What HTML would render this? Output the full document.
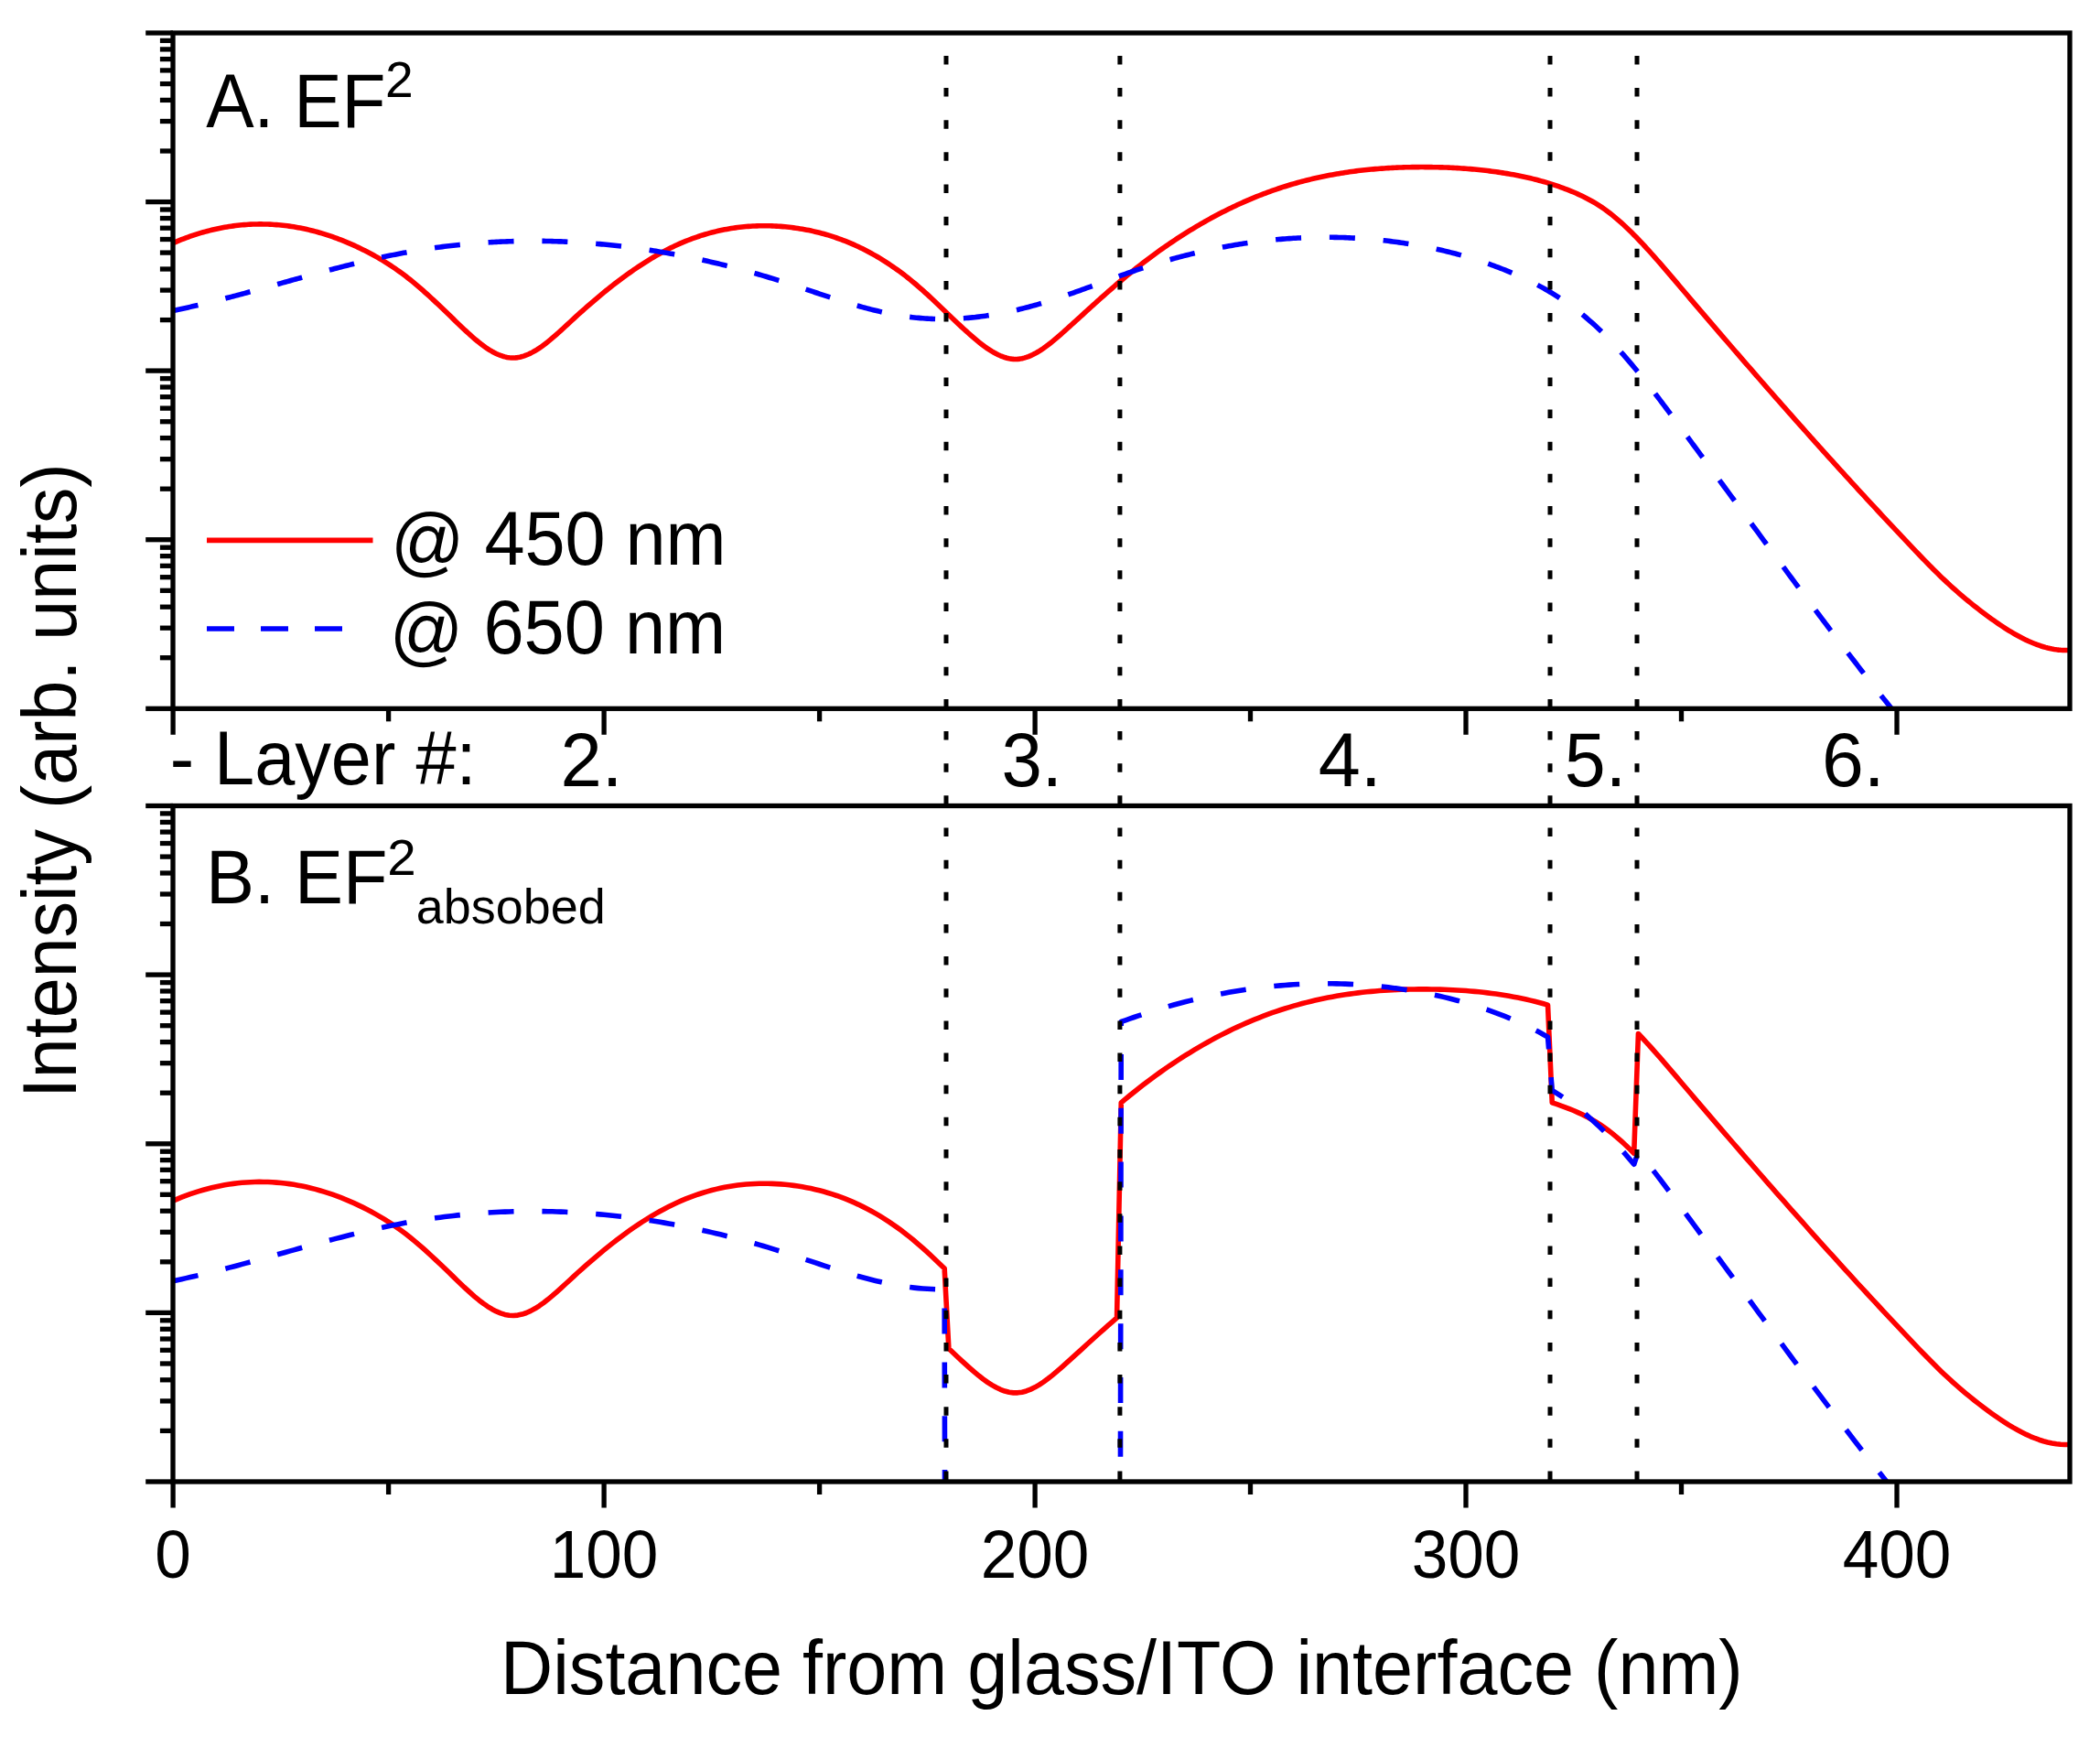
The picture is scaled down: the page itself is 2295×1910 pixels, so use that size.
<!DOCTYPE html>
<html><head><meta charset="utf-8"><style>html,body{margin:0;padding:0;background:#fff;overflow:hidden}svg{display:block}</style></head>
<body><svg width="2295" height="1910" viewBox="0 0 2295 1910">
<rect width="100%" height="100%" fill="#fff"/>
<clipPath id="cA"><rect x="189" y="36.0" width="2073" height="738.3"/></clipPath>
<clipPath id="cB"><rect x="189" y="880.5" width="2073" height="738.5"/></clipPath>
<g clip-path="url(#cA)">
<path d="M189.10,265.57 L191.45,264.56 L193.81,263.58 L196.16,262.62 L198.52,261.69 L200.87,260.78 L203.23,259.90 L205.58,259.04 L207.94,258.21 L210.29,257.40 L212.65,256.62 L215.00,255.87 L217.36,255.14 L219.71,254.43 L222.07,253.75 L224.42,253.10 L226.78,252.47 L229.13,251.87 L231.49,251.29 L233.84,250.74 L236.20,250.21 L238.55,249.70 L240.91,249.23 L243.26,248.77 L245.62,248.35 L247.97,247.94 L250.33,247.57 L252.68,247.21 L255.04,246.89 L257.39,246.58 L259.75,246.31 L262.10,246.06 L264.46,245.83 L266.81,245.63 L269.17,245.45 L271.52,245.30 L273.88,245.17 L276.23,245.07 L278.59,244.99 L280.94,244.94 L283.30,244.91 L285.65,244.91 L288.01,244.93 L290.36,244.98 L292.72,245.05 L295.07,245.15 L297.43,245.27 L299.78,245.42 L302.14,245.59 L304.49,245.78 L306.85,246.00 L309.20,246.25 L311.55,246.52 L313.91,246.82 L316.26,247.14 L318.62,247.48 L320.97,247.85 L323.33,248.24 L325.68,248.66 L328.04,249.11 L330.39,249.57 L332.75,250.07 L335.10,250.58 L337.46,251.13 L339.81,251.69 L342.17,252.28 L344.52,252.90 L346.88,253.54 L349.23,254.21 L351.59,254.89 L353.94,255.61 L356.30,256.35 L358.65,257.11 L361.01,257.90 L363.36,258.71 L365.72,259.55 L368.07,260.41 L370.43,261.29 L372.78,262.20 L375.14,263.13 L377.49,264.09 L379.85,265.08 L382.20,266.08 L384.56,267.11 L386.91,268.17 L389.27,269.25 L391.62,270.35 L393.98,271.48 L396.33,272.64 L398.69,273.81 L401.04,275.02 L403.40,276.25 L405.75,277.50 L408.11,278.79 L410.46,280.10 L412.82,281.44 L415.17,282.81 L417.53,284.22 L419.88,285.65 L422.24,287.11 L424.59,288.61 L426.94,290.14 L429.30,291.71 L431.65,293.31 L434.01,294.94 L436.36,296.61 L438.72,298.32 L441.07,300.06 L443.43,301.85 L445.78,303.67 L448.14,305.53 L450.49,307.43 L452.85,309.36 L455.20,311.34 L457.56,313.34 L459.91,315.38 L462.27,317.45 L464.62,319.54 L466.98,321.66 L469.33,323.80 L471.69,325.97 L474.04,328.15 L476.40,330.35 L478.75,332.57 L481.11,334.80 L483.46,337.05 L485.82,339.30 L488.17,341.57 L490.53,343.83 L492.88,346.11 L495.24,348.38 L497.59,350.66 L499.95,352.93 L502.30,355.20 L504.66,357.45 L507.01,359.68 L509.37,361.88 L511.72,364.05 L514.08,366.18 L516.43,368.26 L518.79,370.30 L521.14,372.27 L523.50,374.18 L525.85,376.03 L528.21,377.79 L530.56,379.47 L532.92,381.07 L535.27,382.57 L537.63,383.96 L539.98,385.25 L542.34,386.43 L544.69,387.49 L547.04,388.42 L549.40,389.22 L551.75,389.88 L554.11,390.40 L556.46,390.76 L558.82,390.97 L561.17,391.02 L563.53,390.90 L565.88,390.61 L568.24,390.18 L570.59,389.59 L572.95,388.86 L575.30,387.99 L577.66,387.00 L580.01,385.88 L582.37,384.64 L584.72,383.30 L587.08,381.86 L589.43,380.31 L591.79,378.68 L594.14,376.97 L596.50,375.18 L598.85,373.33 L601.21,371.41 L603.56,369.43 L605.92,367.41 L608.27,365.34 L610.63,363.24 L612.98,361.11 L615.34,358.95 L617.69,356.79 L620.05,354.61 L622.40,352.43 L624.76,350.25 L627.11,348.09 L629.47,345.94 L631.82,343.80 L634.18,341.68 L636.53,339.57 L638.89,337.48 L641.24,335.41 L643.60,333.35 L645.95,331.31 L648.31,329.29 L650.66,327.28 L653.02,325.29 L655.37,323.32 L657.73,321.37 L660.08,319.44 L662.43,317.52 L664.79,315.63 L667.14,313.76 L669.50,311.90 L671.85,310.07 L674.21,308.26 L676.56,306.47 L678.92,304.70 L681.27,302.95 L683.63,301.23 L685.98,299.52 L688.34,297.85 L690.69,296.19 L693.05,294.56 L695.40,292.95 L697.76,291.37 L700.11,289.81 L702.47,288.28 L704.82,286.77 L707.18,285.29 L709.53,283.83 L711.89,282.41 L714.24,281.01 L716.60,279.63 L718.95,278.29 L721.31,276.97 L723.66,275.68 L726.02,274.42 L728.37,273.19 L730.73,271.98 L733.08,270.81 L735.44,269.67 L737.79,268.56 L740.15,267.47 L742.50,266.42 L744.86,265.39 L747.21,264.40 L749.57,263.43 L751.92,262.49 L754.28,261.58 L756.63,260.70 L758.99,259.85 L761.34,259.03 L763.70,258.23 L766.05,257.46 L768.41,256.72 L770.76,256.01 L773.12,255.33 L775.47,254.67 L777.83,254.04 L780.18,253.44 L782.53,252.86 L784.89,252.31 L787.24,251.79 L789.60,251.29 L791.95,250.82 L794.31,250.38 L796.66,249.96 L799.02,249.57 L801.37,249.20 L803.73,248.86 L806.08,248.55 L808.44,248.26 L810.79,248.00 L813.15,247.76 L815.50,247.54 L817.86,247.35 L820.21,247.19 L822.57,247.05 L824.92,246.93 L827.28,246.84 L829.63,246.78 L831.99,246.73 L834.34,246.71 L836.70,246.72 L839.05,246.75 L841.41,246.80 L843.76,246.87 L846.12,246.97 L848.47,247.09 L850.83,247.23 L853.18,247.40 L855.54,247.59 L857.89,247.80 L860.25,248.03 L862.60,248.28 L864.96,248.56 L867.31,248.86 L869.67,249.18 L872.02,249.53 L874.38,249.90 L876.73,250.29 L879.09,250.71 L881.44,251.15 L883.80,251.62 L886.15,252.11 L888.51,252.62 L890.86,253.16 L893.22,253.72 L895.57,254.31 L897.92,254.93 L900.28,255.57 L902.63,256.24 L904.99,256.94 L907.34,257.66 L909.70,258.41 L912.05,259.18 L914.41,259.98 L916.76,260.82 L919.12,261.67 L921.47,262.56 L923.83,263.48 L926.18,264.42 L928.54,265.39 L930.89,266.40 L933.25,267.43 L935.60,268.49 L937.96,269.58 L940.31,270.70 L942.67,271.86 L945.02,273.04 L947.38,274.25 L949.73,275.50 L952.09,276.77 L954.44,278.08 L956.80,279.42 L959.15,280.79 L961.51,282.19 L963.86,283.63 L966.22,285.10 L968.57,286.60 L970.93,288.14 L973.28,289.71 L975.64,291.31 L977.99,292.95 L980.35,294.62 L982.70,296.32 L985.06,298.06 L987.41,299.84 L989.77,301.65 L992.12,303.50 L994.48,305.38 L996.83,307.30 L999.19,309.25 L1001.54,311.24 L1003.90,313.27 L1006.25,315.33 L1008.61,317.43 L1010.96,319.55 L1013.32,321.69 L1015.67,323.87 L1018.02,326.06 L1020.38,328.27 L1022.73,330.49 L1025.09,332.73 L1027.44,334.97 L1029.80,337.23 L1032.15,339.48 L1034.51,341.74 L1036.86,344.00 L1039.22,346.25 L1041.57,348.49 L1043.93,350.73 L1046.28,352.95 L1048.64,355.16 L1050.99,357.34 L1053.35,359.51 L1055.70,361.65 L1058.06,363.77 L1060.41,365.86 L1062.77,367.91 L1065.12,369.93 L1067.48,371.90 L1069.83,373.82 L1072.19,375.68 L1074.54,377.48 L1076.90,379.21 L1079.25,380.86 L1081.61,382.42 L1083.96,383.90 L1086.32,385.28 L1088.67,386.56 L1091.03,387.73 L1093.38,388.79 L1095.74,389.72 L1098.09,390.53 L1100.45,391.21 L1102.80,391.74 L1105.16,392.13 L1107.51,392.36 L1109.87,392.44 L1112.22,392.35 L1114.58,392.10 L1116.93,391.69 L1119.29,391.13 L1121.64,390.43 L1124.00,389.59 L1126.35,388.62 L1128.71,387.53 L1131.06,386.33 L1133.41,385.01 L1135.77,383.60 L1138.12,382.08 L1140.48,380.48 L1142.83,378.80 L1145.19,377.05 L1147.54,375.22 L1149.90,373.34 L1152.25,371.40 L1154.61,369.41 L1156.96,367.39 L1159.32,365.33 L1161.67,363.24 L1164.03,361.14 L1166.38,359.02 L1168.74,356.89 L1171.09,354.76 L1173.45,352.62 L1175.80,350.48 L1178.16,348.34 L1180.51,346.20 L1182.87,344.06 L1185.22,341.92 L1187.58,339.78 L1189.93,337.64 L1192.29,335.50 L1194.64,333.37 L1197.00,331.25 L1199.35,329.13 L1201.71,327.02 L1204.06,324.91 L1206.42,322.82 L1208.77,320.73 L1211.13,318.66 L1213.48,316.60 L1215.84,314.55 L1218.19,312.51 L1220.55,310.49 L1222.90,308.48 L1225.26,306.49 L1227.61,304.52 L1229.97,302.57 L1232.32,300.63 L1234.68,298.71 L1237.03,296.80 L1239.39,294.91 L1241.74,293.04 L1244.10,291.19 L1246.45,289.35 L1248.81,287.53 L1251.16,285.73 L1253.51,283.94 L1255.87,282.17 L1258.22,280.42 L1260.58,278.68 L1262.93,276.96 L1265.29,275.26 L1267.64,273.57 L1270.00,271.91 L1272.35,270.25 L1274.71,268.62 L1277.06,267.00 L1279.42,265.39 L1281.77,263.81 L1284.13,262.24 L1286.48,260.68 L1288.84,259.15 L1291.19,257.63 L1293.55,256.12 L1295.90,254.64 L1298.26,253.16 L1300.61,251.71 L1302.97,250.27 L1305.32,248.85 L1307.68,247.44 L1310.03,246.06 L1312.39,244.68 L1314.74,243.33 L1317.10,241.99 L1319.45,240.66 L1321.81,239.36 L1324.16,238.06 L1326.52,236.79 L1328.87,235.53 L1331.23,234.29 L1333.58,233.06 L1335.94,231.85 L1338.29,230.66 L1340.65,229.48 L1343.00,228.32 L1345.36,227.17 L1347.71,226.04 L1350.07,224.93 L1352.42,223.83 L1354.78,222.75 L1357.13,221.69 L1359.49,220.64 L1361.84,219.60 L1364.20,218.59 L1366.55,217.58 L1368.90,216.60 L1371.26,215.63 L1373.61,214.67 L1375.97,213.74 L1378.32,212.81 L1380.68,211.91 L1383.03,211.02 L1385.39,210.14 L1387.74,209.28 L1390.10,208.44 L1392.45,207.61 L1394.81,206.80 L1397.16,206.01 L1399.52,205.22 L1401.87,204.46 L1404.23,203.71 L1406.58,202.98 L1408.94,202.26 L1411.29,201.55 L1413.65,200.86 L1416.00,200.19 L1418.36,199.53 L1420.71,198.89 L1423.07,198.26 L1425.42,197.64 L1427.78,197.04 L1430.13,196.45 L1432.49,195.88 L1434.84,195.32 L1437.20,194.78 L1439.55,194.24 L1441.91,193.73 L1444.26,193.22 L1446.62,192.73 L1448.97,192.25 L1451.33,191.79 L1453.68,191.34 L1456.04,190.90 L1458.39,190.47 L1460.75,190.06 L1463.10,189.66 L1465.46,189.27 L1467.81,188.89 L1470.17,188.53 L1472.52,188.18 L1474.88,187.84 L1477.23,187.51 L1479.59,187.19 L1481.94,186.89 L1484.30,186.59 L1486.65,186.31 L1489.00,186.04 L1491.36,185.78 L1493.71,185.53 L1496.07,185.30 L1498.42,185.07 L1500.78,184.85 L1503.13,184.65 L1505.49,184.45 L1507.84,184.27 L1510.20,184.10 L1512.55,183.93 L1514.91,183.78 L1517.26,183.63 L1519.62,183.50 L1521.97,183.37 L1524.33,183.26 L1526.68,183.15 L1529.04,183.06 L1531.39,182.97 L1533.75,182.89 L1536.10,182.82 L1538.46,182.76 L1540.81,182.71 L1543.17,182.66 L1545.52,182.63 L1547.88,182.60 L1550.23,182.59 L1552.59,182.57 L1554.94,182.57 L1557.30,182.58 L1559.65,182.59 L1562.01,182.61 L1564.36,182.64 L1566.72,182.68 L1569.07,182.72 L1571.43,182.78 L1573.78,182.84 L1576.14,182.91 L1578.49,182.99 L1580.85,183.07 L1583.20,183.17 L1585.56,183.27 L1587.91,183.38 L1590.27,183.51 L1592.62,183.64 L1594.98,183.78 L1597.33,183.93 L1599.69,184.09 L1602.04,184.27 L1604.39,184.45 L1606.75,184.64 L1609.10,184.84 L1611.46,185.05 L1613.81,185.28 L1616.17,185.51 L1618.52,185.76 L1620.88,186.02 L1623.23,186.28 L1625.59,186.56 L1627.94,186.85 L1630.30,187.16 L1632.65,187.47 L1635.01,187.80 L1637.36,188.14 L1639.72,188.49 L1642.07,188.86 L1644.43,189.23 L1646.78,189.62 L1649.14,190.03 L1651.49,190.44 L1653.85,190.87 L1656.20,191.32 L1658.56,191.77 L1660.91,192.24 L1663.27,192.73 L1665.62,193.23 L1667.98,193.75 L1670.33,194.28 L1672.69,194.83 L1675.04,195.40 L1677.40,195.98 L1679.75,196.58 L1682.11,197.20 L1684.46,197.84 L1686.82,198.50 L1689.17,199.18 L1691.53,199.88 L1693.88,200.60 L1696.24,201.34 L1698.59,202.10 L1700.95,202.88 L1703.30,203.69 L1705.66,204.52 L1708.01,205.38 L1710.37,206.26 L1712.72,207.16 L1715.08,208.09 L1717.43,209.05 L1719.79,210.03 L1722.14,211.05 L1724.49,212.10 L1726.85,213.18 L1729.20,214.30 L1731.56,215.46 L1733.91,216.66 L1736.27,217.91 L1738.62,219.20 L1740.98,220.54 L1743.33,221.94 L1745.69,223.38 L1748.04,224.88 L1750.40,226.44 L1752.75,228.06 L1755.11,229.73 L1757.46,231.48 L1759.82,233.28 L1762.17,235.14 L1764.53,237.06 L1766.88,239.04 L1769.24,241.07 L1771.59,243.16 L1773.95,245.29 L1776.30,247.47 L1778.66,249.70 L1781.01,251.98 L1783.37,254.29 L1785.72,256.65 L1788.08,259.05 L1790.43,261.48 L1792.79,263.95 L1795.14,266.45 L1797.50,268.98 L1799.85,271.54 L1802.21,274.13 L1804.56,276.75 L1806.92,279.39 L1809.27,282.05 L1811.63,284.73 L1813.98,287.43 L1816.34,290.14 L1818.69,292.87 L1821.05,295.61 L1823.40,298.36 L1825.76,301.12 L1828.11,303.89 L1830.47,306.66 L1832.82,309.43 L1835.18,312.21 L1837.53,314.98 L1839.88,317.75 L1842.24,320.52 L1844.59,323.29 L1846.95,326.06 L1849.30,328.82 L1851.66,331.59 L1854.01,334.35 L1856.37,337.11 L1858.72,339.86 L1861.08,342.62 L1863.43,345.37 L1865.79,348.12 L1868.14,350.87 L1870.50,353.62 L1872.85,356.37 L1875.21,359.11 L1877.56,361.85 L1879.92,364.59 L1882.27,367.33 L1884.63,370.06 L1886.98,372.80 L1889.34,375.53 L1891.69,378.25 L1894.05,380.98 L1896.40,383.71 L1898.76,386.43 L1901.11,389.15 L1903.47,391.87 L1905.82,394.58 L1908.18,397.29 L1910.53,400.00 L1912.89,402.71 L1915.24,405.42 L1917.60,408.12 L1919.95,410.82 L1922.31,413.52 L1924.66,416.22 L1927.02,418.91 L1929.37,421.61 L1931.73,424.29 L1934.08,426.98 L1936.44,429.67 L1938.79,432.35 L1941.15,435.03 L1943.50,437.70 L1945.86,440.38 L1948.21,443.05 L1950.57,445.72 L1952.92,448.38 L1955.28,451.05 L1957.63,453.71 L1959.98,456.37 L1962.34,459.02 L1964.69,461.67 L1967.05,464.32 L1969.40,466.97 L1971.76,469.62 L1974.11,472.26 L1976.47,474.90 L1978.82,477.53 L1981.18,480.17 L1983.53,482.80 L1985.89,485.42 L1988.24,488.05 L1990.60,490.67 L1992.95,493.29 L1995.31,495.90 L1997.66,498.52 L2000.02,501.13 L2002.37,503.73 L2004.73,506.34 L2007.08,508.94 L2009.44,511.54 L2011.79,514.13 L2014.15,516.72 L2016.50,519.31 L2018.86,521.90 L2021.21,524.48 L2023.57,527.06 L2025.92,529.63 L2028.28,532.20 L2030.63,534.77 L2032.99,537.34 L2035.34,539.90 L2037.70,542.46 L2040.05,545.02 L2042.41,547.57 L2044.76,550.12 L2047.12,552.67 L2049.47,555.21 L2051.83,557.75 L2054.18,560.28 L2056.54,562.82 L2058.89,565.34 L2061.25,567.87 L2063.60,570.39 L2065.96,572.91 L2068.31,575.43 L2070.67,577.94 L2073.02,580.45 L2075.37,582.95 L2077.73,585.45 L2080.08,587.95 L2082.44,590.44 L2084.79,592.93 L2087.15,595.42 L2089.50,597.90 L2091.86,600.38 L2094.21,602.85 L2096.57,605.31 L2098.92,607.76 L2101.28,610.20 L2103.63,612.63 L2105.99,615.04 L2108.34,617.44 L2110.70,619.82 L2113.05,622.18 L2115.41,624.52 L2117.76,626.84 L2120.12,629.14 L2122.47,631.41 L2124.83,633.65 L2127.18,635.87 L2129.54,638.06 L2131.89,640.22 L2134.25,642.35 L2136.60,644.45 L2138.96,646.52 L2141.31,648.57 L2143.67,650.59 L2146.02,652.59 L2148.38,654.56 L2150.73,656.50 L2153.09,658.42 L2155.44,660.32 L2157.80,662.19 L2160.15,664.04 L2162.51,665.87 L2164.86,667.68 L2167.22,669.47 L2169.57,671.24 L2171.93,672.98 L2174.28,674.71 L2176.64,676.41 L2178.99,678.09 L2181.35,679.74 L2183.70,681.37 L2186.06,682.97 L2188.41,684.54 L2190.77,686.07 L2193.12,687.58 L2195.47,689.05 L2197.83,690.48 L2200.18,691.88 L2202.54,693.23 L2204.89,694.55 L2207.25,695.83 L2209.60,697.06 L2211.96,698.25 L2214.31,699.40 L2216.67,700.49 L2219.02,701.54 L2221.38,702.54 L2223.73,703.49 L2226.09,704.38 L2228.44,705.22 L2230.80,706.01 L2233.15,706.73 L2235.51,707.40 L2237.86,708.01 L2240.22,708.56 L2242.57,709.04 L2244.93,709.46 L2247.28,709.82 L2249.64,710.10 L2251.99,710.32 L2254.35,710.47 L2256.70,710.55 L2259.06,710.55 L2261.41,710.48" fill="none" stroke="#f00" stroke-width="5.6" stroke-linejoin="round"/>
<path d="M189.10,339.47 L191.45,338.98 L193.81,338.48 L196.16,337.98 L198.52,337.47 L200.87,336.95 L203.23,336.43 L205.58,335.91 L207.94,335.37 L210.29,334.83 L212.65,334.29 L215.00,333.74 L217.36,333.19 L219.71,332.63 L222.07,332.06 L224.42,331.49 L226.78,330.92 L229.13,330.34 L231.49,329.76 L233.84,329.17 L236.20,328.58 L238.55,327.99 L240.91,327.39 L243.26,326.78 L245.62,326.18 L247.97,325.57 L250.33,324.96 L252.68,324.34 L255.04,323.72 L257.39,323.10 L259.75,322.47 L262.10,321.84 L264.46,321.21 L266.81,320.58 L269.17,319.94 L271.52,319.31 L273.88,318.67 L276.23,318.03 L278.59,317.38 L280.94,316.74 L283.30,316.09 L285.65,315.44 L288.01,314.80 L290.36,314.15 L292.72,313.49 L295.07,312.84 L297.43,312.19 L299.78,311.54 L302.14,310.88 L304.49,310.23 L306.85,309.58 L309.20,308.92 L311.55,308.27 L313.91,307.62 L316.26,306.96 L318.62,306.31 L320.97,305.66 L323.33,305.01 L325.68,304.36 L328.04,303.71 L330.39,303.06 L332.75,302.41 L335.10,301.76 L337.46,301.12 L339.81,300.48 L342.17,299.84 L344.52,299.20 L346.88,298.56 L349.23,297.93 L351.59,297.30 L353.94,296.67 L356.30,296.04 L358.65,295.42 L361.01,294.80 L363.36,294.18 L365.72,293.56 L368.07,292.95 L370.43,292.34 L372.78,291.74 L375.14,291.14 L377.49,290.54 L379.85,289.95 L382.20,289.36 L384.56,288.77 L386.91,288.19 L389.27,287.61 L391.62,287.04 L393.98,286.48 L396.33,285.91 L398.69,285.36 L401.04,284.81 L403.40,284.26 L405.75,283.72 L408.11,283.18 L410.46,282.65 L412.82,282.13 L415.17,281.61 L417.53,281.10 L419.88,280.59 L422.24,280.09 L424.59,279.60 L426.94,279.11 L429.30,278.63 L431.65,278.16 L434.01,277.69 L436.36,277.23 L438.72,276.78 L441.07,276.34 L443.43,275.90 L445.78,275.47 L448.14,275.05 L450.49,274.64 L452.85,274.23 L455.20,273.83 L457.56,273.44 L459.91,273.06 L462.27,272.68 L464.62,272.32 L466.98,271.96 L469.33,271.60 L471.69,271.26 L474.04,270.92 L476.40,270.59 L478.75,270.27 L481.11,269.95 L483.46,269.64 L485.82,269.34 L488.17,269.05 L490.53,268.77 L492.88,268.49 L495.24,268.22 L497.59,267.95 L499.95,267.70 L502.30,267.45 L504.66,267.21 L507.01,266.98 L509.37,266.75 L511.72,266.53 L514.08,266.32 L516.43,266.12 L518.79,265.92 L521.14,265.73 L523.50,265.55 L525.85,265.37 L528.21,265.20 L530.56,265.04 L532.92,264.89 L535.27,264.75 L537.63,264.61 L539.98,264.48 L542.34,264.35 L544.69,264.23 L547.04,264.12 L549.40,264.02 L551.75,263.93 L554.11,263.84 L556.46,263.76 L558.82,263.68 L561.17,263.62 L563.53,263.56 L565.88,263.50 L568.24,263.46 L570.59,263.42 L572.95,263.39 L575.30,263.36 L577.66,263.35 L580.01,263.34 L582.37,263.33 L584.72,263.34 L587.08,263.35 L589.43,263.36 L591.79,263.39 L594.14,263.42 L596.50,263.46 L598.85,263.50 L601.21,263.56 L603.56,263.62 L605.92,263.68 L608.27,263.76 L610.63,263.84 L612.98,263.92 L615.34,264.02 L617.69,264.12 L620.05,264.22 L622.40,264.34 L624.76,264.46 L627.11,264.59 L629.47,264.72 L631.82,264.86 L634.18,265.01 L636.53,265.16 L638.89,265.33 L641.24,265.49 L643.60,265.67 L645.95,265.85 L648.31,266.04 L650.66,266.23 L653.02,266.44 L655.37,266.64 L657.73,266.86 L660.08,267.08 L662.43,267.31 L664.79,267.54 L667.14,267.79 L669.50,268.03 L671.85,268.29 L674.21,268.55 L676.56,268.82 L678.92,269.09 L681.27,269.37 L683.63,269.66 L685.98,269.95 L688.34,270.25 L690.69,270.56 L693.05,270.87 L695.40,271.19 L697.76,271.52 L700.11,271.85 L702.47,272.19 L704.82,272.54 L707.18,272.89 L709.53,273.25 L711.89,273.61 L714.24,273.98 L716.60,274.36 L718.95,274.74 L721.31,275.14 L723.66,275.53 L726.02,275.93 L728.37,276.34 L730.73,276.76 L733.08,277.18 L735.44,277.61 L737.79,278.05 L740.15,278.49 L742.50,278.93 L744.86,279.39 L747.21,279.85 L749.57,280.31 L751.92,280.79 L754.28,281.27 L756.63,281.75 L758.99,282.25 L761.34,282.74 L763.70,283.25 L766.05,283.76 L768.41,284.28 L770.76,284.80 L773.12,285.33 L775.47,285.87 L777.83,286.41 L780.18,286.96 L782.53,287.51 L784.89,288.08 L787.24,288.64 L789.60,289.22 L791.95,289.80 L794.31,290.39 L796.66,290.98 L799.02,291.58 L801.37,292.19 L803.73,292.80 L806.08,293.42 L808.44,294.04 L810.79,294.67 L813.15,295.31 L815.50,295.95 L817.86,296.60 L820.21,297.26 L822.57,297.92 L824.92,298.59 L827.28,299.27 L829.63,299.95 L831.99,300.64 L834.34,301.33 L836.70,302.03 L839.05,302.74 L841.41,303.45 L843.76,304.17 L846.12,304.90 L848.47,305.63 L850.83,306.37 L853.18,307.11 L855.54,307.86 L857.89,308.62 L860.25,309.38 L862.60,310.14 L864.96,310.91 L867.31,311.68 L869.67,312.46 L872.02,313.24 L874.38,314.02 L876.73,314.80 L879.09,315.58 L881.44,316.36 L883.80,317.15 L886.15,317.93 L888.51,318.71 L890.86,319.50 L893.22,320.28 L895.57,321.06 L897.92,321.84 L900.28,322.61 L902.63,323.38 L904.99,324.15 L907.34,324.91 L909.70,325.67 L912.05,326.43 L914.41,327.18 L916.76,327.92 L919.12,328.66 L921.47,329.39 L923.83,330.11 L926.18,330.83 L928.54,331.54 L930.89,332.24 L933.25,332.93 L935.60,333.61 L937.96,334.28 L940.31,334.95 L942.67,335.60 L945.02,336.24 L947.38,336.87 L949.73,337.49 L952.09,338.09 L954.44,338.68 L956.80,339.26 L959.15,339.83 L961.51,340.38 L963.86,340.92 L966.22,341.44 L968.57,341.94 L970.93,342.43 L973.28,342.91 L975.64,343.37 L977.99,343.81 L980.35,344.23 L982.70,344.64 L985.06,345.02 L987.41,345.39 L989.77,345.74 L992.12,346.07 L994.48,346.37 L996.83,346.66 L999.19,346.93 L1001.54,347.18 L1003.90,347.40 L1006.25,347.61 L1008.61,347.80 L1010.96,347.96 L1013.32,348.11 L1015.67,348.24 L1018.02,348.35 L1020.38,348.44 L1022.73,348.51 L1025.09,348.56 L1027.44,348.59 L1029.80,348.60 L1032.15,348.60 L1034.51,348.58 L1036.86,348.53 L1039.22,348.47 L1041.57,348.40 L1043.93,348.30 L1046.28,348.19 L1048.64,348.06 L1050.99,347.91 L1053.35,347.75 L1055.70,347.56 L1058.06,347.36 L1060.41,347.15 L1062.77,346.91 L1065.12,346.66 L1067.48,346.40 L1069.83,346.12 L1072.19,345.82 L1074.54,345.50 L1076.90,345.17 L1079.25,344.83 L1081.61,344.47 L1083.96,344.09 L1086.32,343.70 L1088.67,343.29 L1091.03,342.86 L1093.38,342.43 L1095.74,341.97 L1098.09,341.51 L1100.45,341.02 L1102.80,340.53 L1105.16,340.02 L1107.51,339.49 L1109.87,338.95 L1112.22,338.40 L1114.58,337.84 L1116.93,337.26 L1119.29,336.66 L1121.64,336.06 L1124.00,335.44 L1126.35,334.81 L1128.71,334.16 L1131.06,333.50 L1133.41,332.83 L1135.77,332.15 L1138.12,331.45 L1140.48,330.75 L1142.83,330.03 L1145.19,329.30 L1147.54,328.56 L1149.90,327.80 L1152.25,327.04 L1154.61,326.27 L1156.96,325.49 L1159.32,324.70 L1161.67,323.91 L1164.03,323.10 L1166.38,322.29 L1168.74,321.47 L1171.09,320.65 L1173.45,319.82 L1175.80,318.98 L1178.16,318.14 L1180.51,317.30 L1182.87,316.45 L1185.22,315.60 L1187.58,314.74 L1189.93,313.88 L1192.29,313.02 L1194.64,312.16 L1197.00,311.30 L1199.35,310.43 L1201.71,309.56 L1204.06,308.70 L1206.42,307.83 L1208.77,306.97 L1211.13,306.11 L1213.48,305.24 L1215.84,304.39 L1218.19,303.53 L1220.55,302.67 L1222.90,301.82 L1225.26,300.98 L1227.61,300.14 L1229.97,299.30 L1232.32,298.47 L1234.68,297.64 L1237.03,296.82 L1239.39,296.01 L1241.74,295.20 L1244.10,294.40 L1246.45,293.61 L1248.81,292.83 L1251.16,292.06 L1253.51,291.29 L1255.87,290.54 L1258.22,289.79 L1260.58,289.05 L1262.93,288.32 L1265.29,287.60 L1267.64,286.89 L1270.00,286.19 L1272.35,285.49 L1274.71,284.81 L1277.06,284.13 L1279.42,283.46 L1281.77,282.80 L1284.13,282.15 L1286.48,281.51 L1288.84,280.88 L1291.19,280.25 L1293.55,279.64 L1295.90,279.03 L1298.26,278.44 L1300.61,277.85 L1302.97,277.27 L1305.32,276.70 L1307.68,276.14 L1310.03,275.59 L1312.39,275.04 L1314.74,274.51 L1317.10,273.98 L1319.45,273.47 L1321.81,272.96 L1324.16,272.46 L1326.52,271.97 L1328.87,271.49 L1331.23,271.02 L1333.58,270.56 L1335.94,270.11 L1338.29,269.66 L1340.65,269.23 L1343.00,268.80 L1345.36,268.39 L1347.71,267.98 L1350.07,267.58 L1352.42,267.19 L1354.78,266.81 L1357.13,266.44 L1359.49,266.08 L1361.84,265.73 L1364.20,265.39 L1366.55,265.05 L1368.90,264.73 L1371.26,264.41 L1373.61,264.11 L1375.97,263.81 L1378.32,263.52 L1380.68,263.25 L1383.03,262.98 L1385.39,262.72 L1387.74,262.47 L1390.10,262.23 L1392.45,262.00 L1394.81,261.77 L1397.16,261.56 L1399.52,261.36 L1401.87,261.16 L1404.23,260.98 L1406.58,260.80 L1408.94,260.64 L1411.29,260.48 L1413.65,260.33 L1416.00,260.19 L1418.36,260.07 L1420.71,259.95 L1423.07,259.84 L1425.42,259.74 L1427.78,259.65 L1430.13,259.57 L1432.49,259.49 L1434.84,259.43 L1437.20,259.38 L1439.55,259.34 L1441.91,259.30 L1444.26,259.28 L1446.62,259.27 L1448.97,259.26 L1451.33,259.27 L1453.68,259.28 L1456.04,259.30 L1458.39,259.34 L1460.75,259.38 L1463.10,259.43 L1465.46,259.50 L1467.81,259.57 L1470.17,259.65 L1472.52,259.74 L1474.88,259.84 L1477.23,259.96 L1479.59,260.08 L1481.94,260.21 L1484.30,260.35 L1486.65,260.50 L1489.00,260.66 L1491.36,260.82 L1493.71,261.00 L1496.07,261.19 L1498.42,261.39 L1500.78,261.60 L1503.13,261.82 L1505.49,262.05 L1507.84,262.28 L1510.20,262.53 L1512.55,262.79 L1514.91,263.06 L1517.26,263.33 L1519.62,263.62 L1521.97,263.92 L1524.33,264.22 L1526.68,264.54 L1529.04,264.87 L1531.39,265.20 L1533.75,265.55 L1536.10,265.91 L1538.46,266.27 L1540.81,266.65 L1543.17,267.04 L1545.52,267.43 L1547.88,267.84 L1550.23,268.26 L1552.59,268.69 L1554.94,269.12 L1557.30,269.57 L1559.65,270.03 L1562.01,270.50 L1564.36,270.99 L1566.72,271.48 L1569.07,271.98 L1571.43,272.50 L1573.78,273.03 L1576.14,273.57 L1578.49,274.12 L1580.85,274.69 L1583.20,275.26 L1585.56,275.85 L1587.91,276.45 L1590.27,277.06 L1592.62,277.69 L1594.98,278.33 L1597.33,278.98 L1599.69,279.65 L1602.04,280.32 L1604.39,281.01 L1606.75,281.72 L1609.10,282.44 L1611.46,283.17 L1613.81,283.92 L1616.17,284.68 L1618.52,285.45 L1620.88,286.24 L1623.23,287.04 L1625.59,287.86 L1627.94,288.69 L1630.30,289.53 L1632.65,290.40 L1635.01,291.27 L1637.36,292.16 L1639.72,293.07 L1642.07,293.99 L1644.43,294.93 L1646.78,295.88 L1649.14,296.85 L1651.49,297.83 L1653.85,298.83 L1656.20,299.85 L1658.56,300.89 L1660.91,301.94 L1663.27,303.01 L1665.62,304.10 L1667.98,305.21 L1670.33,306.34 L1672.69,307.50 L1675.04,308.67 L1677.40,309.87 L1679.75,311.10 L1682.11,312.35 L1684.46,313.62 L1686.82,314.92 L1689.17,316.25 L1691.53,317.60 L1693.88,318.98 L1696.24,320.39 L1698.59,321.83 L1700.95,323.30 L1703.30,324.81 L1705.66,326.34 L1708.01,327.91 L1710.37,329.51 L1712.72,331.14 L1715.08,332.81 L1717.43,334.51 L1719.79,336.25 L1722.14,338.03 L1724.49,339.84 L1726.85,341.70 L1729.20,343.59 L1731.56,345.52 L1733.91,347.49 L1736.27,349.51 L1738.62,351.56 L1740.98,353.66 L1743.33,355.80 L1745.69,357.98 L1748.04,360.21 L1750.40,362.49 L1752.75,364.81 L1755.11,367.16 L1757.46,369.57 L1759.82,372.01 L1762.17,374.49 L1764.53,377.01 L1766.88,379.56 L1769.24,382.16 L1771.59,384.78 L1773.95,387.45 L1776.30,390.14 L1778.66,392.87 L1781.01,395.63 L1783.37,398.41 L1785.72,401.23 L1788.08,404.08 L1790.43,406.95 L1792.79,409.84 L1795.14,412.77 L1797.50,415.71 L1799.85,418.68 L1802.21,421.67 L1804.56,424.68 L1806.92,427.71 L1809.27,430.76 L1811.63,433.83 L1813.98,436.91 L1816.34,440.01 L1818.69,443.12 L1821.05,446.24 L1823.40,449.38 L1825.76,452.52 L1828.11,455.68 L1830.47,458.84 L1832.82,462.01 L1835.18,465.19 L1837.53,468.37 L1839.88,471.55 L1842.24,474.74 L1844.59,477.92 L1846.95,481.11 L1849.30,484.30 L1851.66,487.49 L1854.01,490.68 L1856.37,493.87 L1858.72,497.07 L1861.08,500.26 L1863.43,503.45 L1865.79,506.65 L1868.14,509.84 L1870.50,513.04 L1872.85,516.23 L1875.21,519.43 L1877.56,522.63 L1879.92,525.83 L1882.27,529.02 L1884.63,532.22 L1886.98,535.42 L1889.34,538.62 L1891.69,541.82 L1894.05,545.02 L1896.40,548.22 L1898.76,551.42 L1901.11,554.62 L1903.47,557.82 L1905.82,561.02 L1908.18,564.22 L1910.53,567.42 L1912.89,570.62 L1915.24,573.81 L1917.60,577.01 L1919.95,580.21 L1922.31,583.41 L1924.66,586.61 L1927.02,589.80 L1929.37,593.00 L1931.73,596.19 L1934.08,599.39 L1936.44,602.58 L1938.79,605.77 L1941.15,608.96 L1943.50,612.15 L1945.86,615.33 L1948.21,618.52 L1950.57,621.70 L1952.92,624.88 L1955.28,628.06 L1957.63,631.23 L1959.98,634.41 L1962.34,637.58 L1964.69,640.75 L1967.05,643.91 L1969.40,647.07 L1971.76,650.23 L1974.11,653.39 L1976.47,656.54 L1978.82,659.69 L1981.18,662.84 L1983.53,665.98 L1985.89,669.12 L1988.24,672.25 L1990.60,675.38 L1992.95,678.51 L1995.31,681.63 L1997.66,684.75 L2000.02,687.86 L2002.37,690.97 L2004.73,694.07 L2007.08,697.17 L2009.44,700.27 L2011.79,703.36 L2014.15,706.44 L2016.50,709.52 L2018.86,712.59 L2021.21,715.66 L2023.57,718.72 L2025.92,721.78 L2028.28,724.83 L2030.63,727.87 L2032.99,730.91 L2035.34,733.94 L2037.70,736.96 L2040.05,739.98 L2042.41,743.00 L2044.76,746.00 L2047.12,749.00 L2049.47,751.99 L2051.83,754.97 L2054.18,757.95 L2056.54,760.92 L2058.89,763.88 L2061.25,766.84 L2063.60,769.79 L2065.96,772.72 L2068.31,775.66 L2070.67,778.58 L2073.02,781.49 L2075.37,784.40 L2077.73,787.30 L2080.08,790.19 L2082.44,793.07 L2084.79,795.94 L2087.15,798.80 L2089.50,801.66 L2091.86,804.50 L2094.21,807.34 L2096.57,810.17 L2098.92,812.98" fill="none" stroke="#00f" stroke-width="5.6" stroke-dasharray="28 30.85" stroke-linejoin="round"/>
</g>
<g clip-path="url(#cB)">
<path d="M189.10,1312.07 L193.81,1310.08 L198.52,1308.19 L203.23,1306.40 L207.94,1304.71 L212.65,1303.12 L217.36,1301.64 L222.07,1300.25 L226.78,1298.97 L231.49,1297.79 L236.20,1296.71 L240.91,1295.73 L245.62,1294.85 L250.33,1294.07 L255.04,1293.39 L259.75,1292.81 L264.46,1292.33 L269.17,1291.95 L273.88,1291.67 L278.59,1291.49 L283.30,1291.41 L288.01,1291.43 L292.72,1291.55 L297.43,1291.77 L302.14,1292.09 L306.85,1292.50 L311.55,1293.02 L316.26,1293.64 L320.97,1294.35 L325.68,1295.16 L330.39,1296.07 L335.10,1297.08 L339.81,1298.19 L344.52,1299.40 L349.23,1300.71 L353.94,1302.11 L358.65,1303.61 L363.36,1305.21 L368.07,1306.91 L372.78,1308.70 L377.49,1310.59 L382.20,1312.58 L386.91,1314.67 L391.62,1316.85 L396.33,1319.14 L401.04,1321.52 L405.75,1324.00 L410.46,1326.60 L415.17,1329.31 L419.88,1332.15 L424.59,1335.11 L429.30,1338.21 L434.01,1341.44 L438.72,1344.82 L443.43,1348.35 L448.14,1352.03 L452.85,1355.86 L457.56,1359.84 L462.27,1363.95 L466.98,1368.16 L471.69,1372.47 L476.40,1376.85 L481.11,1381.30 L485.82,1385.80 L490.53,1390.33 L495.24,1394.88 L499.95,1399.43 L504.66,1403.95 L509.37,1408.38 L514.08,1412.68 L518.79,1416.80 L523.50,1420.68 L528.21,1424.29 L532.92,1427.57 L537.63,1430.46 L542.34,1432.93 L547.04,1434.92 L551.75,1436.38 L556.46,1437.26 L561.17,1437.52 L565.88,1437.11 L570.59,1436.09 L575.30,1434.49 L580.01,1432.38 L584.72,1429.80 L589.43,1426.81 L594.14,1423.47 L598.85,1419.83 L603.56,1415.93 L608.27,1411.84 L612.98,1407.61 L617.69,1403.29 L622.40,1398.93 L627.11,1394.59 L631.82,1390.30 L636.53,1386.07 L641.24,1381.91 L645.95,1377.81 L650.66,1373.78 L655.37,1369.82 L660.08,1365.94 L664.79,1362.13 L669.50,1358.40 L674.21,1354.76 L678.92,1351.20 L683.63,1347.73 L688.34,1344.35 L693.05,1341.06 L697.76,1337.87 L702.47,1334.78 L707.18,1331.79 L711.89,1328.91 L716.60,1326.13 L721.31,1323.47 L726.02,1320.92 L730.73,1318.48 L735.44,1316.17 L740.15,1313.97 L744.86,1311.89 L749.57,1309.93 L754.28,1308.08 L758.99,1306.35 L763.70,1304.73 L768.41,1303.22 L773.12,1301.83 L777.83,1300.54 L782.53,1299.36 L787.24,1298.29 L791.95,1297.32 L796.66,1296.46 L801.37,1295.70 L806.08,1295.05 L810.79,1294.50 L815.50,1294.04 L820.21,1293.69 L824.92,1293.43 L829.63,1293.28 L834.34,1293.21 L839.05,1293.25 L843.76,1293.37 L848.47,1293.59 L853.18,1293.90 L857.89,1294.30 L862.60,1294.78 L867.31,1295.36 L872.02,1296.03 L876.73,1296.79 L881.44,1297.65 L886.15,1298.61 L890.86,1299.66 L895.57,1300.81 L900.28,1302.07 L904.99,1303.44 L909.70,1304.91 L914.41,1306.48 L919.12,1308.17 L923.83,1309.98 L928.54,1311.89 L933.25,1313.93 L937.96,1316.08 L942.67,1318.36 L947.38,1320.75 L952.09,1323.27 L956.80,1325.92 L961.51,1328.69 L966.22,1331.60 L970.93,1334.64 L975.64,1337.81 L980.35,1341.12 L985.06,1344.56 L989.77,1348.15 L994.48,1351.88 L999.19,1355.75 L1003.90,1359.77 L1008.61,1363.93 L1013.32,1368.19 L1018.02,1372.56 L1022.73,1376.99 L1027.44,1381.47 L1032.15,1385.98 L1036.86,1473.50 L1041.57,1477.99 L1046.28,1482.45 L1050.99,1486.84 L1055.70,1491.15 L1060.41,1495.36 L1065.12,1499.43 L1069.83,1503.32 L1074.54,1506.98 L1079.25,1510.36 L1083.96,1513.40 L1088.67,1516.06 L1093.38,1518.29 L1098.09,1520.03 L1102.80,1521.24 L1107.51,1521.86 L1112.22,1521.85 L1116.93,1521.19 L1121.64,1519.93 L1126.35,1518.12 L1131.06,1515.83 L1135.77,1513.10 L1140.48,1509.98 L1145.19,1506.55 L1149.90,1502.84 L1154.61,1498.91 L1159.32,1494.83 L1164.03,1490.64 L1168.74,1486.39 L1173.45,1482.12 L1178.16,1477.84 L1182.87,1473.56 L1187.58,1469.28 L1192.29,1465.00 L1197.00,1460.75 L1201.71,1456.52 L1206.42,1452.32 L1211.13,1448.16 L1215.84,1444.05 L1220.55,1439.99 L1225.26,1204.79 L1229.97,1200.87 L1234.68,1197.01 L1239.39,1193.21 L1244.10,1189.49 L1248.81,1185.83 L1253.51,1182.24 L1258.22,1178.72 L1262.93,1175.26 L1267.64,1171.87 L1272.35,1168.55 L1277.06,1165.30 L1281.77,1162.11 L1286.48,1158.98 L1291.19,1155.93 L1295.90,1152.94 L1300.61,1150.01 L1305.32,1147.15 L1310.03,1144.36 L1314.74,1141.63 L1319.45,1138.96 L1324.16,1136.36 L1328.87,1133.83 L1333.58,1131.36 L1338.29,1128.96 L1343.00,1126.62 L1347.71,1124.34 L1352.42,1122.13 L1357.13,1119.99 L1361.84,1117.90 L1366.55,1115.88 L1371.26,1113.93 L1375.97,1112.04 L1380.68,1110.21 L1385.39,1108.44 L1390.10,1106.74 L1394.81,1105.10 L1399.52,1103.52 L1404.23,1102.01 L1408.94,1100.56 L1413.65,1099.16 L1418.36,1097.83 L1423.07,1096.56 L1427.78,1095.34 L1432.49,1094.18 L1437.20,1093.08 L1441.91,1092.03 L1446.62,1091.03 L1451.33,1090.09 L1456.04,1089.20 L1460.75,1088.36 L1465.46,1087.57 L1470.17,1086.83 L1474.88,1086.14 L1479.59,1085.49 L1484.30,1084.89 L1489.00,1084.34 L1493.71,1083.83 L1498.42,1083.37 L1503.13,1082.95 L1507.84,1082.57 L1512.55,1082.23 L1517.26,1081.93 L1521.97,1081.67 L1526.68,1081.45 L1531.39,1081.27 L1536.10,1081.12 L1540.81,1081.01 L1545.52,1080.93 L1550.23,1080.89 L1554.94,1080.87 L1559.65,1080.89 L1564.36,1080.94 L1569.07,1081.02 L1573.78,1081.14 L1578.49,1081.29 L1583.20,1081.47 L1587.91,1081.68 L1592.62,1081.94 L1597.33,1082.23 L1602.04,1082.57 L1606.75,1082.94 L1611.46,1083.35 L1616.17,1083.81 L1620.88,1084.32 L1625.59,1084.86 L1630.30,1085.46 L1635.01,1086.10 L1639.72,1086.79 L1644.43,1087.53 L1649.14,1088.33 L1653.85,1089.17 L1658.56,1090.07 L1663.27,1091.03 L1667.98,1092.05 L1672.69,1093.13 L1677.40,1094.28 L1682.11,1095.50 L1686.82,1096.80 L1691.53,1098.18 L1696.24,1204.84 L1700.95,1206.38 L1705.66,1208.02 L1710.37,1209.76 L1715.08,1211.59 L1719.79,1213.53 L1724.49,1215.60 L1729.20,1217.80 L1733.91,1220.16 L1738.62,1222.70 L1743.33,1225.44 L1748.04,1228.38 L1752.75,1231.56 L1757.46,1234.98 L1762.17,1238.64 L1766.88,1242.54 L1771.59,1246.66 L1776.30,1250.97 L1781.01,1255.48 L1785.72,1260.15 L1790.43,1129.48 L1795.14,1134.45 L1799.85,1139.54 L1804.56,1144.75 L1809.27,1150.05 L1813.98,1155.43 L1818.69,1160.87 L1823.40,1166.36 L1828.11,1171.89 L1832.82,1177.43 L1837.53,1182.98 L1842.24,1188.52 L1846.95,1194.06 L1851.66,1199.59 L1856.37,1205.11 L1861.08,1210.62 L1865.79,1216.12 L1870.50,1221.62 L1875.21,1227.11 L1879.92,1232.59 L1884.63,1238.06 L1889.34,1243.53 L1894.05,1248.98 L1898.76,1254.43 L1903.47,1259.87 L1908.18,1265.29 L1912.89,1270.71 L1917.60,1276.12 L1922.31,1281.52 L1927.02,1286.91 L1931.73,1292.29 L1936.44,1297.67 L1941.15,1303.03 L1945.86,1308.38 L1950.57,1313.72 L1955.28,1319.05 L1959.98,1324.37 L1964.69,1329.67 L1969.40,1334.97 L1974.11,1340.26 L1978.82,1345.53 L1983.53,1350.80 L1988.24,1356.05 L1992.95,1361.29 L1997.66,1366.52 L2002.37,1371.73 L2007.08,1376.94 L2011.79,1382.13 L2016.50,1387.31 L2021.21,1392.48 L2025.92,1397.63 L2030.63,1402.77 L2035.34,1407.90 L2040.05,1413.02 L2044.76,1418.12 L2049.47,1423.21 L2054.18,1428.28 L2058.89,1433.34 L2063.60,1438.39 L2068.31,1443.43 L2073.02,1448.45 L2077.73,1453.45 L2082.44,1458.44 L2087.15,1463.42 L2091.86,1468.38 L2096.57,1473.31 L2101.28,1478.20 L2105.99,1483.04 L2110.70,1487.82 L2115.41,1492.52 L2120.12,1497.14 L2124.83,1501.65 L2129.54,1506.06 L2134.25,1510.35 L2138.96,1514.52 L2143.67,1518.59 L2148.38,1522.56 L2153.09,1526.42 L2157.80,1530.19 L2162.51,1533.87 L2167.22,1537.47 L2171.93,1540.98 L2176.64,1544.41 L2181.35,1547.74 L2186.06,1550.97 L2190.77,1554.07 L2195.47,1557.05 L2200.18,1559.88 L2204.89,1562.55 L2209.60,1565.06 L2214.31,1567.40 L2219.02,1569.54 L2223.73,1571.49 L2228.44,1573.22 L2233.15,1574.73 L2237.86,1576.01 L2242.57,1577.04 L2247.28,1577.82 L2251.99,1578.32 L2256.70,1578.55 L2261.41,1578.48" fill="none" stroke="#f00" stroke-width="5.6" stroke-linejoin="round"/>
<path d="M189.10,1399.67 L193.81,1398.68 L198.52,1397.67 L203.23,1396.63 L207.94,1395.57 L212.65,1394.49 L217.36,1393.39 L222.07,1392.26 L226.78,1391.12 L231.49,1389.96 L236.20,1388.78 L240.91,1387.59 L245.62,1386.38 L250.33,1385.16 L255.04,1383.92 L259.75,1382.67 L264.46,1381.41 L269.17,1380.14 L273.88,1378.87 L278.59,1377.58 L283.30,1376.29 L288.01,1375.00 L292.72,1373.69 L297.43,1372.39 L302.14,1371.08 L306.85,1369.78 L311.55,1368.47 L316.26,1367.16 L320.97,1365.86 L325.68,1364.56 L330.39,1363.26 L335.10,1361.96 L339.81,1360.68 L344.52,1359.40 L349.23,1358.13 L353.94,1356.87 L358.65,1355.62 L363.36,1354.38 L368.07,1353.15 L372.78,1351.94 L377.49,1350.74 L382.20,1349.56 L386.91,1348.39 L391.62,1347.24 L396.33,1346.11 L401.04,1345.01 L405.75,1343.92 L410.46,1342.85 L415.17,1341.81 L419.88,1340.79 L424.59,1339.80 L429.30,1338.83 L434.01,1337.89 L438.72,1336.98 L443.43,1336.10 L448.14,1335.25 L452.85,1334.43 L457.56,1333.64 L462.27,1332.88 L466.98,1332.16 L471.69,1331.46 L476.40,1330.79 L481.11,1330.15 L485.82,1329.54 L490.53,1328.97 L495.24,1328.42 L499.95,1327.90 L504.66,1327.41 L509.37,1326.95 L514.08,1326.52 L518.79,1326.12 L523.50,1325.75 L528.21,1325.40 L532.92,1325.09 L537.63,1324.81 L542.34,1324.55 L547.04,1324.32 L551.75,1324.13 L556.46,1323.96 L561.17,1323.82 L565.88,1323.70 L570.59,1323.62 L575.30,1323.56 L580.01,1323.54 L584.72,1323.54 L589.43,1323.56 L594.14,1323.62 L598.85,1323.70 L603.56,1323.82 L608.27,1323.96 L612.98,1324.12 L617.69,1324.32 L622.40,1324.54 L627.11,1324.79 L631.82,1325.06 L636.53,1325.36 L641.24,1325.69 L645.95,1326.05 L650.66,1326.43 L655.37,1326.84 L660.08,1327.28 L664.79,1327.74 L669.50,1328.23 L674.21,1328.75 L678.92,1329.29 L683.63,1329.86 L688.34,1330.45 L693.05,1331.07 L697.76,1331.72 L702.47,1332.39 L707.18,1333.09 L711.89,1333.81 L716.60,1334.56 L721.31,1335.34 L726.02,1336.13 L730.73,1336.96 L735.44,1337.81 L740.15,1338.69 L744.86,1339.59 L749.57,1340.51 L754.28,1341.47 L758.99,1342.45 L763.70,1343.45 L768.41,1344.48 L773.12,1345.53 L777.83,1346.61 L782.53,1347.71 L787.24,1348.84 L791.95,1350.00 L796.66,1351.18 L801.37,1352.39 L806.08,1353.62 L810.79,1354.87 L815.50,1356.15 L820.21,1357.46 L824.92,1358.79 L829.63,1360.15 L834.34,1361.53 L839.05,1362.94 L843.76,1364.37 L848.47,1365.83 L853.18,1367.31 L857.89,1368.82 L862.60,1370.34 L867.31,1371.88 L872.02,1373.44 L876.73,1375.00 L881.44,1376.56 L886.15,1378.13 L890.86,1379.70 L895.57,1381.26 L900.28,1382.81 L904.99,1384.35 L909.70,1385.87 L914.41,1387.38 L919.12,1388.86 L923.83,1390.31 L928.54,1391.74 L933.25,1393.13 L937.96,1394.48 L942.67,1395.80 L947.38,1397.07 L952.09,1398.29 L956.80,1399.46 L961.51,1400.58 L966.22,1401.64 L970.93,1402.63 L975.64,1403.57 L980.35,1404.43 L985.06,1405.22 L989.77,1405.94 L994.48,1406.57 L999.19,1407.13 L1003.90,1407.60 L1008.61,1408.00 L1013.32,1408.31 L1018.02,1408.55 L1022.73,1408.71 L1027.44,1408.79 L1032.15,1408.80 L1032.55,1629.00" fill="none" stroke="#00f" stroke-width="5.6" stroke-dasharray="28 30.85" stroke-linejoin="round"/>
<path d="M1224.42,1629.00 L1225.26,1116.48 L1229.97,1114.80 L1234.68,1113.14 L1239.39,1111.51 L1244.10,1109.90 L1248.81,1108.33 L1253.51,1106.79 L1258.22,1105.29 L1262.93,1103.82 L1267.64,1102.39 L1272.35,1100.99 L1277.06,1099.63 L1281.77,1098.30 L1286.48,1097.01 L1291.19,1095.75 L1295.90,1094.53 L1300.61,1093.35 L1305.32,1092.20 L1310.03,1091.09 L1314.74,1090.01 L1319.45,1088.97 L1324.16,1087.96 L1328.87,1086.99 L1333.58,1086.06 L1338.29,1085.16 L1343.00,1084.30 L1347.71,1083.48 L1352.42,1082.69 L1357.13,1081.94 L1361.84,1081.23 L1366.55,1080.55 L1371.26,1079.91 L1375.97,1079.31 L1380.68,1078.75 L1385.39,1078.22 L1390.10,1077.73 L1394.81,1077.27 L1399.52,1076.86 L1404.23,1076.48 L1408.94,1076.14 L1413.65,1075.83 L1418.36,1075.57 L1423.07,1075.34 L1427.78,1075.15 L1432.49,1074.99 L1437.20,1074.88 L1441.91,1074.80 L1446.62,1074.77 L1451.33,1074.77 L1456.04,1074.80 L1460.75,1074.88 L1465.46,1075.00 L1470.17,1075.15 L1474.88,1075.34 L1479.59,1075.58 L1484.30,1075.85 L1489.00,1076.16 L1493.71,1076.50 L1498.42,1076.89 L1503.13,1077.32 L1507.84,1077.78 L1512.55,1078.29 L1517.26,1078.83 L1521.97,1079.42 L1526.68,1080.04 L1531.39,1080.70 L1536.10,1081.41 L1540.81,1082.15 L1545.52,1082.93 L1550.23,1083.76 L1554.94,1084.62 L1559.65,1085.53 L1564.36,1086.49 L1569.07,1087.48 L1573.78,1088.53 L1578.49,1089.62 L1583.20,1090.76 L1587.91,1091.95 L1592.62,1093.19 L1597.33,1094.48 L1602.04,1095.82 L1606.75,1097.22 L1611.46,1098.67 L1616.17,1100.18 L1620.88,1101.74 L1625.59,1103.36 L1630.30,1105.03 L1635.01,1106.77 L1639.72,1108.57 L1644.43,1110.43 L1649.14,1112.35 L1653.85,1114.33 L1658.56,1116.39 L1663.27,1118.51 L1667.98,1120.71 L1672.69,1123.00 L1677.40,1125.37 L1682.11,1127.85 L1686.82,1130.42 L1691.53,1133.10 L1696.24,1191.39 L1700.95,1194.30 L1705.66,1197.34 L1710.37,1200.51 L1715.08,1203.81 L1719.79,1207.25 L1724.49,1210.84 L1729.20,1214.59 L1733.91,1218.49 L1738.62,1222.56 L1743.33,1226.80 L1748.04,1231.21 L1752.75,1235.81 L1757.46,1240.57 L1762.17,1245.49 L1766.88,1250.56 L1771.59,1255.78 L1776.30,1261.14 L1781.01,1266.63 L1785.72,1272.23 L1790.43,1258.35 L1795.14,1264.17 L1799.85,1270.08 L1804.56,1276.08 L1809.27,1282.16 L1813.98,1288.31 L1818.69,1294.52 L1823.40,1300.78 L1828.11,1307.08 L1832.82,1313.41 L1837.53,1319.77 L1842.24,1326.14 L1846.95,1332.51 L1851.66,1338.89 L1856.37,1345.27 L1861.08,1351.66 L1865.79,1358.05 L1870.50,1364.44 L1875.21,1370.83 L1879.92,1377.23 L1884.63,1383.62 L1889.34,1390.02 L1894.05,1396.42 L1898.76,1402.82 L1903.47,1409.22 L1908.18,1415.62 L1912.89,1422.02 L1917.60,1428.41 L1922.31,1434.81 L1927.02,1441.20 L1931.73,1447.59 L1936.44,1453.98 L1941.15,1460.36 L1945.86,1466.73 L1950.57,1473.10 L1955.28,1479.46 L1959.98,1485.81 L1964.69,1492.15 L1969.40,1498.47 L1974.11,1504.79 L1978.82,1511.09 L1983.53,1517.38 L1988.24,1523.65 L1992.95,1529.91 L1997.66,1536.15 L2002.37,1542.37 L2007.08,1548.57 L2011.79,1554.76 L2016.50,1560.92 L2021.21,1567.06 L2025.92,1573.18 L2030.63,1579.27 L2035.34,1585.34 L2040.05,1591.38 L2044.76,1597.40 L2049.47,1603.39 L2054.18,1609.35 L2058.89,1615.28 L2063.60,1621.19 L2068.31,1627.06 L2073.02,1632.89 L2077.73,1638.70 L2082.44,1644.47 L2087.15,1650.20 L2091.86,1655.90" fill="none" stroke="#00f" stroke-width="5.6" stroke-dasharray="28 30.85" stroke-dashoffset="21.7" stroke-linejoin="round"/>
</g>
<line x1="1034.0" y1="1617" x2="1034.0" y2="36.0" stroke="#000" stroke-width="5" stroke-dasharray="9.5 25.65"/>
<line x1="1223.9" y1="1617" x2="1223.9" y2="36.0" stroke="#000" stroke-width="5" stroke-dasharray="9.5 25.65"/>
<line x1="1694.0" y1="1617" x2="1694.0" y2="36.0" stroke="#000" stroke-width="5" stroke-dasharray="9.5 25.65"/>
<line x1="1789.0" y1="1617" x2="1789.0" y2="36.0" stroke="#000" stroke-width="5" stroke-dasharray="9.5 25.65"/>
<rect x="189.0" y="36.0" width="2073.0" height="738.3" fill="none" stroke="#000" stroke-width="5.3"/>
<line x1="159.2" y1="36.0" x2="189.0" y2="36.0" stroke="#000" stroke-width="5.3"/>
<line x1="174.9" y1="165.0" x2="189.0" y2="165.0" stroke="#000" stroke-width="5.3"/>
<line x1="174.9" y1="132.5" x2="189.0" y2="132.5" stroke="#000" stroke-width="5.3"/>
<line x1="174.9" y1="109.4" x2="189.0" y2="109.4" stroke="#000" stroke-width="5.3"/>
<line x1="174.9" y1="91.6" x2="189.0" y2="91.6" stroke="#000" stroke-width="5.3"/>
<line x1="174.9" y1="76.9" x2="189.0" y2="76.9" stroke="#000" stroke-width="5.3"/>
<line x1="174.9" y1="64.6" x2="189.0" y2="64.6" stroke="#000" stroke-width="5.3"/>
<line x1="174.9" y1="53.9" x2="189.0" y2="53.9" stroke="#000" stroke-width="5.3"/>
<line x1="174.9" y1="44.4" x2="189.0" y2="44.4" stroke="#000" stroke-width="5.3"/>
<line x1="159.2" y1="220.6" x2="189.0" y2="220.6" stroke="#000" stroke-width="5.3"/>
<line x1="174.9" y1="349.6" x2="189.0" y2="349.6" stroke="#000" stroke-width="5.3"/>
<line x1="174.9" y1="317.1" x2="189.0" y2="317.1" stroke="#000" stroke-width="5.3"/>
<line x1="174.9" y1="294.0" x2="189.0" y2="294.0" stroke="#000" stroke-width="5.3"/>
<line x1="174.9" y1="276.1" x2="189.0" y2="276.1" stroke="#000" stroke-width="5.3"/>
<line x1="174.9" y1="261.5" x2="189.0" y2="261.5" stroke="#000" stroke-width="5.3"/>
<line x1="174.9" y1="249.2" x2="189.0" y2="249.2" stroke="#000" stroke-width="5.3"/>
<line x1="174.9" y1="238.5" x2="189.0" y2="238.5" stroke="#000" stroke-width="5.3"/>
<line x1="174.9" y1="229.0" x2="189.0" y2="229.0" stroke="#000" stroke-width="5.3"/>
<line x1="159.2" y1="405.1" x2="189.0" y2="405.1" stroke="#000" stroke-width="5.3"/>
<line x1="174.9" y1="534.2" x2="189.0" y2="534.2" stroke="#000" stroke-width="5.3"/>
<line x1="174.9" y1="501.7" x2="189.0" y2="501.7" stroke="#000" stroke-width="5.3"/>
<line x1="174.9" y1="478.6" x2="189.0" y2="478.6" stroke="#000" stroke-width="5.3"/>
<line x1="174.9" y1="460.7" x2="189.0" y2="460.7" stroke="#000" stroke-width="5.3"/>
<line x1="174.9" y1="446.1" x2="189.0" y2="446.1" stroke="#000" stroke-width="5.3"/>
<line x1="174.9" y1="433.7" x2="189.0" y2="433.7" stroke="#000" stroke-width="5.3"/>
<line x1="174.9" y1="423.0" x2="189.0" y2="423.0" stroke="#000" stroke-width="5.3"/>
<line x1="174.9" y1="413.6" x2="189.0" y2="413.6" stroke="#000" stroke-width="5.3"/>
<line x1="159.2" y1="589.7" x2="189.0" y2="589.7" stroke="#000" stroke-width="5.3"/>
<line x1="174.9" y1="718.7" x2="189.0" y2="718.7" stroke="#000" stroke-width="5.3"/>
<line x1="174.9" y1="686.2" x2="189.0" y2="686.2" stroke="#000" stroke-width="5.3"/>
<line x1="174.9" y1="663.2" x2="189.0" y2="663.2" stroke="#000" stroke-width="5.3"/>
<line x1="174.9" y1="645.3" x2="189.0" y2="645.3" stroke="#000" stroke-width="5.3"/>
<line x1="174.9" y1="630.7" x2="189.0" y2="630.7" stroke="#000" stroke-width="5.3"/>
<line x1="174.9" y1="618.3" x2="189.0" y2="618.3" stroke="#000" stroke-width="5.3"/>
<line x1="174.9" y1="607.6" x2="189.0" y2="607.6" stroke="#000" stroke-width="5.3"/>
<line x1="174.9" y1="598.2" x2="189.0" y2="598.2" stroke="#000" stroke-width="5.3"/>
<line x1="159.2" y1="774.3" x2="189.0" y2="774.3" stroke="#000" stroke-width="5.3"/>
<line x1="189.1" y1="774.3" x2="189.1" y2="802.8" stroke="#000" stroke-width="5.3"/>
<line x1="424.6" y1="774.3" x2="424.6" y2="788.3" stroke="#000" stroke-width="5.3"/>
<line x1="660.1" y1="774.3" x2="660.1" y2="802.8" stroke="#000" stroke-width="5.3"/>
<line x1="895.6" y1="774.3" x2="895.6" y2="788.3" stroke="#000" stroke-width="5.3"/>
<line x1="1131.1" y1="774.3" x2="1131.1" y2="802.8" stroke="#000" stroke-width="5.3"/>
<line x1="1366.5" y1="774.3" x2="1366.5" y2="788.3" stroke="#000" stroke-width="5.3"/>
<line x1="1602.0" y1="774.3" x2="1602.0" y2="802.8" stroke="#000" stroke-width="5.3"/>
<line x1="1837.5" y1="774.3" x2="1837.5" y2="788.3" stroke="#000" stroke-width="5.3"/>
<line x1="2073.0" y1="774.3" x2="2073.0" y2="802.8" stroke="#000" stroke-width="5.3"/>
<rect x="189.0" y="880.5" width="2073.0" height="738.5" fill="none" stroke="#000" stroke-width="5.3"/>
<line x1="159.2" y1="880.5" x2="189.0" y2="880.5" stroke="#000" stroke-width="5.3"/>
<line x1="174.9" y1="1009.5" x2="189.0" y2="1009.5" stroke="#000" stroke-width="5.3"/>
<line x1="174.9" y1="977.0" x2="189.0" y2="977.0" stroke="#000" stroke-width="5.3"/>
<line x1="174.9" y1="954.0" x2="189.0" y2="954.0" stroke="#000" stroke-width="5.3"/>
<line x1="174.9" y1="936.1" x2="189.0" y2="936.1" stroke="#000" stroke-width="5.3"/>
<line x1="174.9" y1="921.5" x2="189.0" y2="921.5" stroke="#000" stroke-width="5.3"/>
<line x1="174.9" y1="909.1" x2="189.0" y2="909.1" stroke="#000" stroke-width="5.3"/>
<line x1="174.9" y1="898.4" x2="189.0" y2="898.4" stroke="#000" stroke-width="5.3"/>
<line x1="174.9" y1="888.9" x2="189.0" y2="888.9" stroke="#000" stroke-width="5.3"/>
<line x1="159.2" y1="1065.1" x2="189.0" y2="1065.1" stroke="#000" stroke-width="5.3"/>
<line x1="174.9" y1="1194.2" x2="189.0" y2="1194.2" stroke="#000" stroke-width="5.3"/>
<line x1="174.9" y1="1161.7" x2="189.0" y2="1161.7" stroke="#000" stroke-width="5.3"/>
<line x1="174.9" y1="1138.6" x2="189.0" y2="1138.6" stroke="#000" stroke-width="5.3"/>
<line x1="174.9" y1="1120.7" x2="189.0" y2="1120.7" stroke="#000" stroke-width="5.3"/>
<line x1="174.9" y1="1106.1" x2="189.0" y2="1106.1" stroke="#000" stroke-width="5.3"/>
<line x1="174.9" y1="1093.7" x2="189.0" y2="1093.7" stroke="#000" stroke-width="5.3"/>
<line x1="174.9" y1="1083.0" x2="189.0" y2="1083.0" stroke="#000" stroke-width="5.3"/>
<line x1="174.9" y1="1073.6" x2="189.0" y2="1073.6" stroke="#000" stroke-width="5.3"/>
<line x1="159.2" y1="1249.8" x2="189.0" y2="1249.8" stroke="#000" stroke-width="5.3"/>
<line x1="174.9" y1="1378.8" x2="189.0" y2="1378.8" stroke="#000" stroke-width="5.3"/>
<line x1="174.9" y1="1346.3" x2="189.0" y2="1346.3" stroke="#000" stroke-width="5.3"/>
<line x1="174.9" y1="1323.2" x2="189.0" y2="1323.2" stroke="#000" stroke-width="5.3"/>
<line x1="174.9" y1="1305.3" x2="189.0" y2="1305.3" stroke="#000" stroke-width="5.3"/>
<line x1="174.9" y1="1290.7" x2="189.0" y2="1290.7" stroke="#000" stroke-width="5.3"/>
<line x1="174.9" y1="1278.3" x2="189.0" y2="1278.3" stroke="#000" stroke-width="5.3"/>
<line x1="174.9" y1="1267.6" x2="189.0" y2="1267.6" stroke="#000" stroke-width="5.3"/>
<line x1="174.9" y1="1258.2" x2="189.0" y2="1258.2" stroke="#000" stroke-width="5.3"/>
<line x1="159.2" y1="1434.4" x2="189.0" y2="1434.4" stroke="#000" stroke-width="5.3"/>
<line x1="174.9" y1="1563.4" x2="189.0" y2="1563.4" stroke="#000" stroke-width="5.3"/>
<line x1="174.9" y1="1530.9" x2="189.0" y2="1530.9" stroke="#000" stroke-width="5.3"/>
<line x1="174.9" y1="1507.8" x2="189.0" y2="1507.8" stroke="#000" stroke-width="5.3"/>
<line x1="174.9" y1="1490.0" x2="189.0" y2="1490.0" stroke="#000" stroke-width="5.3"/>
<line x1="174.9" y1="1475.3" x2="189.0" y2="1475.3" stroke="#000" stroke-width="5.3"/>
<line x1="174.9" y1="1463.0" x2="189.0" y2="1463.0" stroke="#000" stroke-width="5.3"/>
<line x1="174.9" y1="1452.3" x2="189.0" y2="1452.3" stroke="#000" stroke-width="5.3"/>
<line x1="174.9" y1="1442.8" x2="189.0" y2="1442.8" stroke="#000" stroke-width="5.3"/>
<line x1="159.2" y1="1619.0" x2="189.0" y2="1619.0" stroke="#000" stroke-width="5.3"/>
<line x1="189.1" y1="1619.0" x2="189.1" y2="1647.5" stroke="#000" stroke-width="5.3"/>
<line x1="424.6" y1="1619.0" x2="424.6" y2="1633.0" stroke="#000" stroke-width="5.3"/>
<line x1="660.1" y1="1619.0" x2="660.1" y2="1647.5" stroke="#000" stroke-width="5.3"/>
<line x1="895.6" y1="1619.0" x2="895.6" y2="1633.0" stroke="#000" stroke-width="5.3"/>
<line x1="1131.1" y1="1619.0" x2="1131.1" y2="1647.5" stroke="#000" stroke-width="5.3"/>
<line x1="1366.5" y1="1619.0" x2="1366.5" y2="1633.0" stroke="#000" stroke-width="5.3"/>
<line x1="1602.0" y1="1619.0" x2="1602.0" y2="1647.5" stroke="#000" stroke-width="5.3"/>
<line x1="1837.5" y1="1619.0" x2="1837.5" y2="1633.0" stroke="#000" stroke-width="5.3"/>
<line x1="2073.0" y1="1619.0" x2="2073.0" y2="1647.5" stroke="#000" stroke-width="5.3"/>
<text transform="translate(225.20,138.80) scale(0.9817,1.0400)" font-size="80" font-family="Liberation Sans, Arial, sans-serif">A. EF</text>
<text transform="translate(420.88,106.00) scale(1.0417,1.0460)" font-size="53" font-family="Liberation Sans, Arial, sans-serif">2</text>
<text transform="translate(224.95,987.10) scale(0.9932,1.0400)" font-size="80" font-family="Liberation Sans, Arial, sans-serif">B. EF</text>
<text transform="translate(423.30,955.60) scale(1.0667,1.0460)" font-size="53" font-family="Liberation Sans, Arial, sans-serif">2</text>
<text transform="translate(454.77,1008.60) scale(1.0172,1.0300)" font-size="53" font-family="Liberation Sans, Arial, sans-serif">absobed</text>
<text transform="translate(426.96,616.60) scale(0.9903,1.0400)" font-size="80" font-family="Liberation Sans, Arial, sans-serif"><tspan dy="3.5">@</tspan><tspan dy="-3.5"> 450 nm</tspan></text>
<text transform="translate(425.85,713.90) scale(0.9922,1.0400)" font-size="80" font-family="Liberation Sans, Arial, sans-serif"><tspan dy="3.5">@</tspan><tspan dy="-3.5"> 650 nm</tspan></text>
<text transform="translate(185.64,857.10) scale(0.9911,1.0400)" font-size="80" font-family="Liberation Sans, Arial, sans-serif">- Layer #:</text>
<text transform="translate(612.53,859.10) scale(1.0182,1.0400)" font-size="80" font-family="Liberation Sans, Arial, sans-serif">2.</text>
<text transform="translate(1094.41,859.10) scale(0.9964,1.0400)" font-size="80" font-family="Liberation Sans, Arial, sans-serif">3.</text>
<text transform="translate(1440.63,859.10) scale(1.0351,1.0400)" font-size="80" font-family="Liberation Sans, Arial, sans-serif">4.</text>
<text transform="translate(1709.67,859.10) scale(1.0107,1.0400)" font-size="80" font-family="Liberation Sans, Arial, sans-serif">5.</text>
<text transform="translate(1990.88,859.10) scale(1.0309,1.0400)" font-size="80" font-family="Liberation Sans, Arial, sans-serif">6.</text>
<text transform="translate(547.07,1850.90) scale(0.9896,1.0400)" font-size="80" font-family="Liberation Sans, Arial, sans-serif">Distance from glass/ITO interface (nm)</text>
<text transform="translate(189.10,1723.8) scale(1.0026,1.05)" text-anchor="middle" font-size="71" font-family="Liberation Sans, Arial, sans-serif">0</text>
<text transform="translate(660.08,1723.8) scale(1.0026,1.05)" text-anchor="middle" font-size="71" font-family="Liberation Sans, Arial, sans-serif">100</text>
<text transform="translate(1131.06,1723.8) scale(1.0026,1.05)" text-anchor="middle" font-size="71" font-family="Liberation Sans, Arial, sans-serif">200</text>
<text transform="translate(1602.04,1723.8) scale(1.0026,1.05)" text-anchor="middle" font-size="71" font-family="Liberation Sans, Arial, sans-serif">300</text>
<text transform="translate(2073.02,1723.8) scale(1.0026,1.05)" text-anchor="middle" font-size="71" font-family="Liberation Sans, Arial, sans-serif">400</text>
<text transform="translate(82.7,1200.11) rotate(-90) scale(0.9875,1.036)" font-size="80" font-family="Liberation Sans, Arial, sans-serif">Intensity (arb. units)</text>
<line x1="226" y1="590.4" x2="407.5" y2="590.4" stroke="#f00" stroke-width="5.6"/>
<line x1="226" y1="687" x2="380" y2="687" stroke="#00f" stroke-width="5.6" stroke-dasharray="30 29"/>
</svg></body></html>
